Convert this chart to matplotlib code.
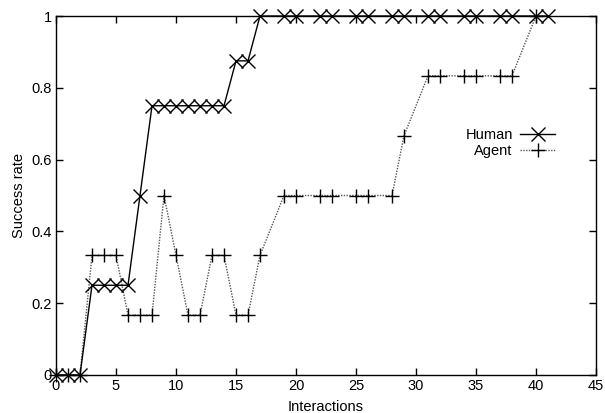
import matplotlib.pyplot as plt
import numpy as np

plt.rcParams['font.family'] = ['Liberation Sans', 'DejaVu Sans']
plt.rcParams['font.size'] = 10.5

# success rate per interaction
human_x = [0, 1, 2, 3, 4, 5, 6, 7, 8, 9, 10, 11, 12, 13, 14, 15, 16, 17,
           19, 20, 22, 23, 25, 26, 28, 29, 31, 32, 34, 35, 37, 38, 40, 41]
human_y = [0, 0, 0, 0.25, 0.25, 0.25, 0.25, 0.5, 0.75, 0.75, 0.75, 0.75, 0.75, 0.75, 0.75,
           0.875, 0.875, 1, 1, 1, 1, 1, 1, 1, 1, 1, 1, 1, 1, 1, 1, 1, 1, 1]

agent_x = [0, 1, 2, 3, 4, 5, 6, 7, 8, 9, 10, 11, 12, 13, 14, 15, 16, 17,
           19, 20, 22, 23, 25, 26, 28, 29, 31, 32, 34, 35, 37, 38, 40]
agent_y = [0, 0, 0, 1/3, 1/3, 1/3, 1/6, 1/6, 1/6, 0.5, 1/3, 1/6, 1/6, 1/3, 1/3,
           1/6, 1/6, 1/3, 0.5, 0.5, 0.5, 0.5, 0.5, 0.5, 0.5, 2/3, 5/6, 5/6, 5/6, 5/6,
           5/6, 5/6, 1]

fig = plt.figure(figsize=(6.05, 4.13), dpi=100)
ax = fig.add_axes([56/605, 38/413, 540/605, 359/413])

ax.plot(human_x, human_y, color='black', lw=1, marker='x', ms=9.5, mew=1,
        clip_on=False, label='Human', zorder=3)
ax.plot(agent_x, agent_y, color='#555555', lw=1, ls=(0, (1, 1)), marker='+', ms=10.5,
        mew=1, mec='black', clip_on=False, label='Agent', zorder=2)

ax.set_xlim(0, 45)
ax.set_ylim(0, 1)
ax.set_xticks(np.arange(0, 46, 5))
ax.set_yticks([0, 0.2, 0.4, 0.6, 0.8, 1])
ax.set_yticklabels(['0', '0.2', '0.4', '0.6', '0.8', '1'])
ax.tick_params(direction='in', top=True, right=True, length=5, width=1, pad=3)
for s in ax.spines.values():
    s.set_linewidth(1)

ax.set_xlabel('Interactions', labelpad=5)
ax.set_ylabel('Success rate', labelpad=4)

ax.legend(loc='center right', bbox_to_anchor=(555/605, 1-143/413),
          bbox_transform=fig.transFigure, frameon=False, markerfirst=False,
          handlelength=2.4, handletextpad=0.5, labelspacing=0.1,
          borderaxespad=0, borderpad=0)

fig.savefig('out.png', dpi=100)
